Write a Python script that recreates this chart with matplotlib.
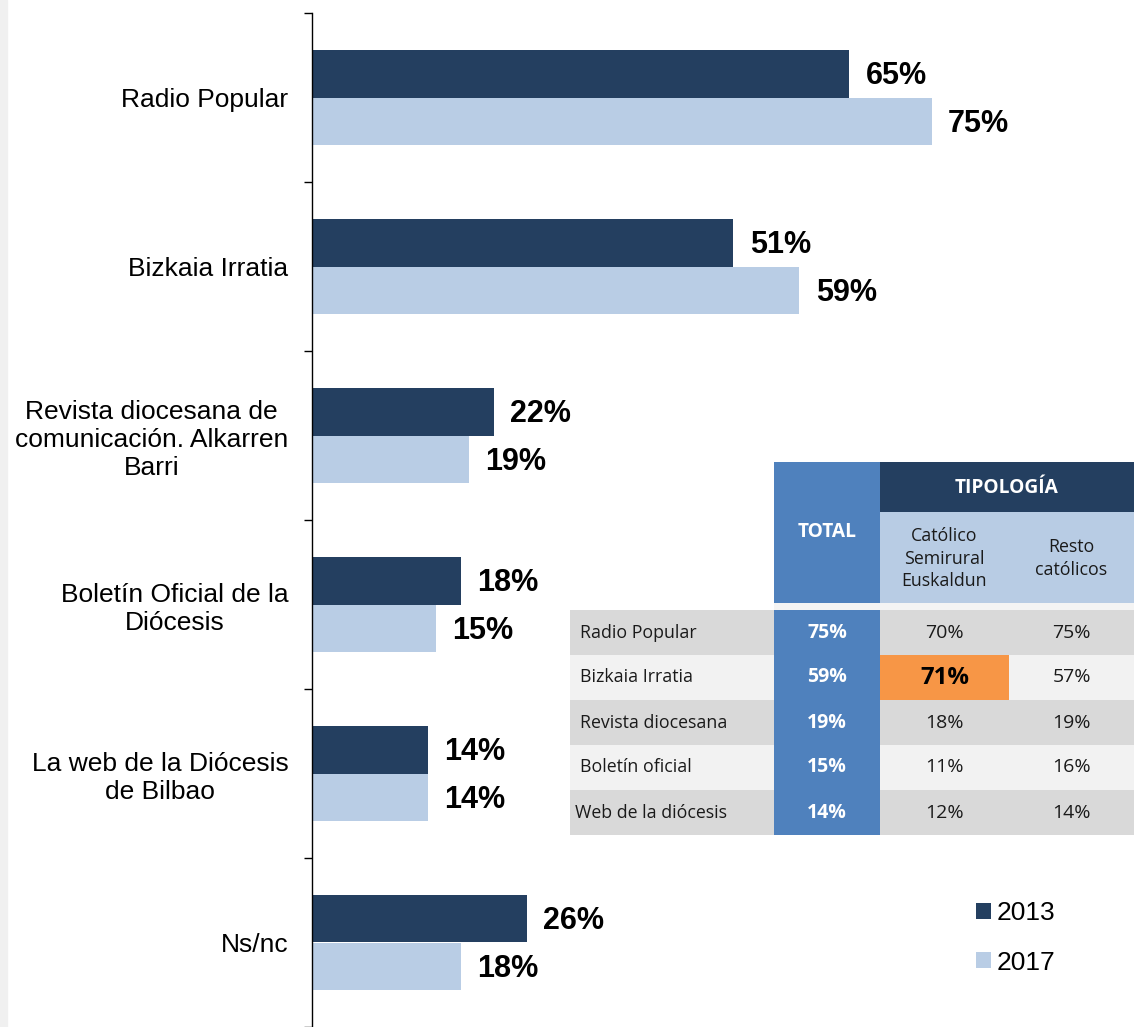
import matplotlib
matplotlib.use("Agg")
import matplotlib.pyplot as plt
from matplotlib.patches import Rectangle
import numpy as np

# ---------------- data ----------------
categories = ["Radio Popular", "Bizkaia Irratia",
              "Revista diocesana de\ncomunicación. Alkarren\nBarri",
              "Boletín Oficial de la\nDiócesis",
              "La web de la Diócesis\nde Bilbao", "Ns/nc"]
vals_2013 = [65, 51, 22, 18, 14, 26]
vals_2017 = [75, 59, 19, 15, 14, 18]
series_names = ["2013", "2017"]

table_rows = ["Radio Popular", "Bizkaia Irratia", "Revista diocesana",
              "Boletín oficial", "Web de la diócesis"]
table_total = [75, 59, 19, 15, 14]
table_catolico = [70, 71, 18, 11, 12]
table_resto = [75, 57, 19, 16, 14]
highlight = (1, 1)  # row index, column (1 = Católico Semirural Euskaldun)

# ---------------- style ----------------
C2013 = "#243f60"
C2017 = "#b9cde5"
CTOTAL = "#4f81bd"
CSUB = "#b8cce4"
CROW1 = "#d9d9d9"
CROW2 = "#f2f2f2"
CORANGE = "#f79646"

W, H = 1134, 1027
fig = plt.figure(figsize=(W / 100, H / 100), dpi=100)
fig.patches.append(Rectangle((0, 0), 7 / W, 1, transform=fig.transFigure,
                             color="#f0f0f0", zorder=0))

ax = fig.add_axes([312 / W, 0, 1 - 312 / W, (H - 13) / H])
y = np.arange(len(categories))
bh = 0.284
b1 = ax.barh(y - bh / 2, vals_2013, height=bh, color=C2013, label=series_names[0])
b2 = ax.barh(y + bh / 2, vals_2017, height=bh, color=C2017, label=series_names[1])
ax.set_xlim(0, 99.5)
ax.set_ylim(len(categories) - 0.5, -0.5)

for bars, vals in ((b1, vals_2013), (b2, vals_2017)):
    for rect, v in zip(bars, vals):
        ax.text(v + 2.0, rect.get_y() + rect.get_height() / 2 + 0.015, f"{v}%",
                ha="left", va="center", fontsize=22, fontweight="bold",
                family="Liberation Sans", color="black")

for s in ("top", "right", "bottom"):
    ax.spines[s].set_visible(False)
ax.spines["left"].set_linewidth(1.0)
ax.set_xticks([])
ax.set_yticks(y)
ax.set_yticklabels(categories, fontsize=19, family="Liberation Sans",
                   linespacing=1.22)
for t in ax.get_yticklabels():
    t.set_multialignment("center")
ax.tick_params(axis="y", which="major", length=0, pad=17)
ax.set_yticks(np.arange(-0.5, len(categories), 1.0), minor=True)
ax.tick_params(axis="y", which="minor", length=6, width=1.0, direction="out")

leg = fig.legend(handles=[b1, b2], labels=series_names, loc="center left",
                 bbox_to_anchor=(976 / W, 1 - 938 / H), frameon=False,
                 prop={"family": "Liberation Sans", "size": 19},
                 handlelength=0.55, handleheight=0.55, handletextpad=0.25,
                 labelspacing=0.95, borderpad=0, borderaxespad=0)

# ---------------- table ----------------
tx0, ty0, tw, th = 570, 462, 564, 376
tax = fig.add_axes([tx0 / W, 1 - (ty0 + th) / H, tw / W, th / H])
tax.set_xlim(0, tw)
tax.set_ylim(th, 0)
tax.axis("off")

col_edges = [0, 204, 310, 439, 564]
h_top, h_mid, h_bot, body0, rh = 0, 50, 141, 148, 45
tfont = "Open Sans"
fs = 12.8
fv = 14
tcol = "#1a1a1a"

def cell(x0, x1, y0, y1, color):
    tax.add_patch(Rectangle((x0, y0), x1 - x0, y1 - y0, color=color, lw=0))

# header
cell(col_edges[1], col_edges[2], h_top, h_bot, CTOTAL)
cell(col_edges[2], col_edges[4], h_top, h_mid, C2013)
cell(col_edges[2], col_edges[4], h_mid, h_bot, CSUB)
cell(col_edges[1], col_edges[4], h_bot, body0, "#f4f4f4")
tax.text((col_edges[1] + col_edges[2]) / 2, 70, "TOTAL", ha="center", va="center",
         color="white", fontsize=fs + 1, fontweight="bold", family=tfont)
tax.text((col_edges[2] + col_edges[4]) / 2, 26, "TIPOLOGÍA", ha="center",
         va="center", color="white", fontsize=fs + 1, fontweight="bold",
         family=tfont)
tax.text((col_edges[2] + col_edges[3]) / 2, (h_mid + h_bot) / 2 + 1,
         "Católico\nSemirural\nEuskaldun", ha="center", va="center",
         color=tcol, fontsize=fs, family=tfont, linespacing=1.35)
tax.text((col_edges[3] + col_edges[4]) / 2, (h_mid + h_bot) / 2 + 1,
         "Resto\ncatólicos", ha="center", va="center",
         color=tcol, fontsize=fs, family=tfont, linespacing=1.35)

for i, name in enumerate(table_rows):
    y0 = body0 + i * rh
    y1 = y0 + rh
    yc = (y0 + y1) / 2
    bg = CROW1 if i % 2 == 0 else CROW2
    cell(col_edges[0], col_edges[4], y0, y1, bg)
    cell(col_edges[1], col_edges[2], y0, y1, CTOTAL)
    tax.text(10 if i < 4 else 5, yc, name, ha="left", va="center",
             color=tcol, fontsize=fs, family=tfont)
    tax.text((col_edges[1] + col_edges[2]) / 2, yc, f"{table_total[i]}%",
             ha="center", va="center", color="white", fontsize=fv,
             fontweight="bold", family=tfont)
    for j, vals in enumerate((table_catolico, table_resto), start=1):
        xa, xb = col_edges[j + 1], col_edges[j + 2]
        if (i, j) == highlight:
            cell(xa, xb, y0, y1, CORANGE)
            tax.text((xa + xb) / 2, yc, f"{vals[i]}%", ha="center",
                     va="center", color="black", fontsize=fs + 4.5,
                     fontweight="bold", family=tfont)
        else:
            tax.text((xa + xb) / 2, yc, f"{vals[i]}%", ha="center",
                     va="center", color=tcol, fontsize=fv, family=tfont)

fig.savefig("out.png", dpi=100)
